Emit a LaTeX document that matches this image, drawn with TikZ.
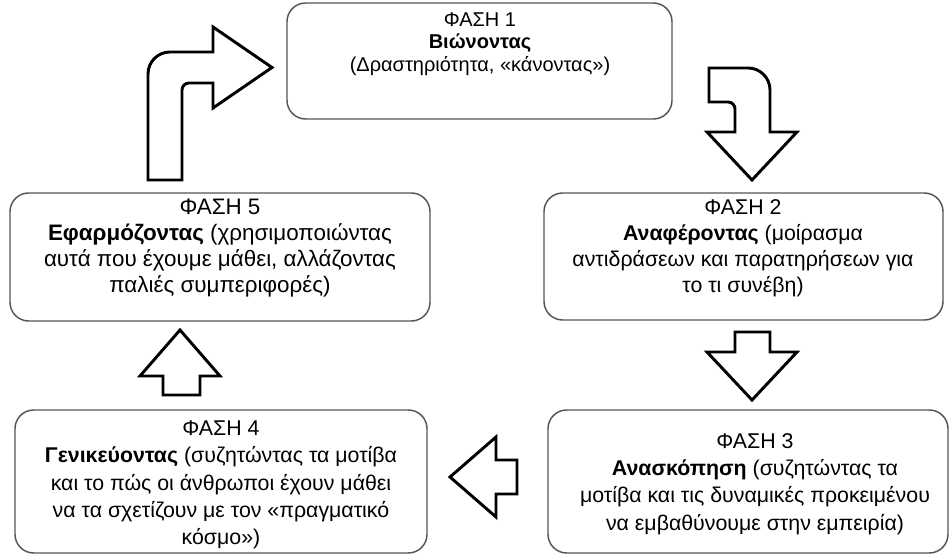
\documentclass[tikz,border=0pt]{standalone}
\usepackage{fontspec}
\setmainfont{Liberation Sans}
\definecolor{boxgray}{RGB}{85,85,85}
\tikzset{
  phasebox/.style={draw=boxgray, line width=1.1pt, rounded corners=14pt},
  phasetext/.style={inner sep=0.75pt, align=center, font=\fontsize{16}{19.5}\selectfont},
  blockarrow/.style={draw=black, line width=2.2pt, fill=white, line join=miter}
}
\begin{document}
\begin{tikzpicture}[x=0.75pt,y=0.75pt,yscale=-1,xscale=1]
        \useasboundingbox (0,0) rectangle (950,555);

        % Phase boxes
        \draw [phasebox] (287,3) rectangle (672,119);
        \draw [phasebox] (544,193) rectangle (943,320);
        \draw [phasebox] (548,410) rectangle (948,553);
        \draw [phasebox] (15,410) rectangle (427,553);
        \draw [phasebox] (10,193) rectangle (430,321);

        % Bent arrow, phase 5 to phase 1
        \draw [blockarrow] (148,180) -- (148,74) arc (180:270:22) -- (213,52) -- (213,27) -- (272,67.5) -- (213,108) -- (213,83) -- (189,83) arc (270:180:7) -- (182,180) -- cycle ;
        % Bent arrow, phase 1 to phase 2
        \draw [blockarrow] (709,68) -- (748,68) arc (270:360:22) -- (770,132) -- (797,132) -- (752,180) -- (707,132) -- (735,132) -- (735,109) arc (0:-90:7) -- (709,102) -- cycle ;
        % Arrow, phase 2 to phase 3
        \draw [blockarrow] (735,332) -- (770,332) -- (770,352) -- (797,352) -- (752,400) -- (707,352) -- (735,352) -- cycle ;
        % Arrow, phase 3 to phase 4
        \draw [blockarrow] (517,460) -- (517,494) -- (496,494) -- (496,517) -- (450,477) -- (496,437) -- (496,460) -- cycle ;
        % Arrow, phase 4 to phase 5
        \draw [blockarrow] (163,395) -- (163,376) -- (140,376) -- (180,330) -- (220,376) -- (200,376) -- (200,395) -- cycle ;

        % Text Node
        \node [phasetext, font=\fontsize{15}{17}\selectfont] (ph1) at (480,44) {ΦΑΣΗ 1\\\textbf{Βιώνοντας}\\(Δραστηριότητα, «κάνοντας»)};
        % Text Node
        \node [phasetext] (ph2) at (743,248) {ΦΑΣΗ 2\\\textbf{Αναφέροντας} (μοίρασμα\\αντιδράσεων και παρατηρήσεων για\\το τι συνέβη)};
        % Text Node
        \node [phasetext, font=\fontsize{16}{20.5}\selectfont] (ph3) at (755,484) {ΦΑΣΗ 3\\\textbf{Ανασκόπηση} (συζητώντας τα\\μοτίβα και τις δυναμικές προκειμένου\\να εμβαθύνουμε στην εμπειρία)};
        % Text Node
        \node [phasetext, font=\fontsize{16}{20.5}\selectfont] (ph4) at (221,485) {ΦΑΣΗ 4\\\textbf{Γενικεύοντας} (συζητώντας τα μοτίβα\\και το πώς οι άνθρωποι έχουν μάθει\\να τα σχετίζουν με τον «πραγματικό\\κόσμο»)};
        % Text Node
        \node [phasetext, font=\fontsize{16.8}{19.5}\selectfont] (ph5) at (220,248) {ΦΑΣΗ 5\\\textbf{Εφαρμόζοντας} (χρησιμοποιώντας\\αυτά που έχουμε μάθει, αλλάζοντας\\παλιές συμπεριφορές)};
    \end{tikzpicture}
\end{document}
